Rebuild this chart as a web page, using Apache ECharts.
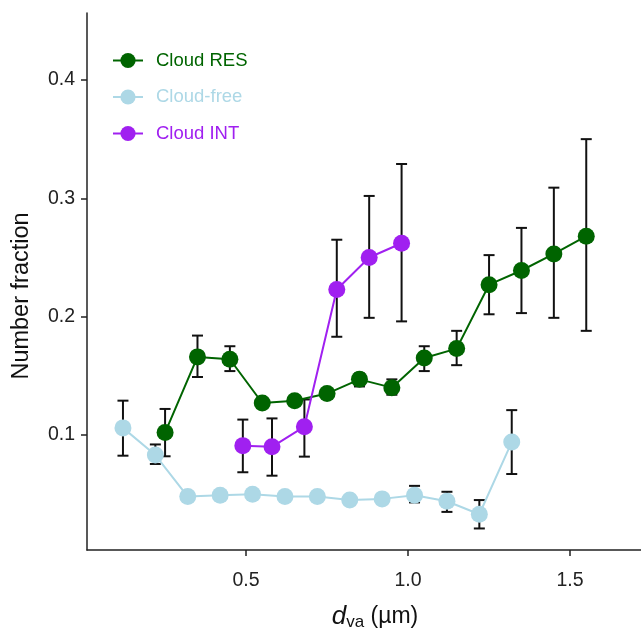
<!DOCTYPE html>
<html><head><meta charset="utf-8">
<script src="https://cdn.jsdelivr.net/npm/echarts@6/dist/echarts.min.js"></script>
<style>html,body{margin:0;padding:0;background:#fff}#c{width:641px;height:631px}</style>
</head><body><div id="c"></div>
<script>
// Cloud RES
const resX  = [0.25,0.35,0.45,0.55,0.65,0.75,0.85,0.95,1.05,1.15,1.25,1.35,1.45,1.55];
const resY  = [0.102,0.166,0.164,0.127,0.129,0.135,0.147,0.140,0.165,0.173,0.227,0.239,0.253,0.268];
const resLo = [0.082,0.149,0.154,0.123,0.125,0.131,0.141,0.134,0.154,0.159,0.202,0.203,0.199,0.188];
const resHi = [0.122,0.184,0.175,0.131,0.133,0.139,0.152,0.147,0.175,0.188,0.252,0.275,0.309,0.350];
// Cloud-free
const freeX  = [0.12,0.22,0.32,0.42,0.52,0.62,0.72,0.82,0.92,1.02,1.12,1.22,1.32];
const freeY  = [0.106,0.083,0.048,0.049,0.050,0.048,0.048,0.045,0.046,0.049,0.044,0.033,0.094];
const freeLo = [0.0825,0.0755,0.048,0.049,0.050,0.048,0.048,0.045,0.046,0.043,0.035,0.021,0.067];
const freeHi = [0.129,0.092,0.048,0.049,0.050,0.048,0.048,0.045,0.046,0.057,0.052,0.045,0.121];
// Cloud INT
const intX  = [0.49,0.58,0.68,0.78,0.88,0.98];
const intY  = [0.091,0.090,0.107,0.223,0.250,0.262];
const intLo = [0.0685,0.0656,0.0817,0.183,0.199,0.196];
const intHi = [0.113,0.114,0.130,0.265,0.302,0.329];

const xTicks = [0.5,1.0,1.5];
const yTicks = [0.1,0.2,0.3,0.4];

const names = ['Cloud RES','Cloud-free','Cloud INT'];
const colors = ['#006400','#ADD8E6','#A020F0'];

const zip2 = (a,b)=>a.map((v,i)=>[v,b[i]]);
const zip3 = (a,b,c)=>a.map((v,i)=>[v,b[i],c[i]]);

function errSeries(data){
  return {
    type:'custom', z:2, silent:true,
    data,
    encode:{x:0,y:[1,2]},
    renderItem(params, api){
      const x=api.value(0), lo=api.value(1), hi=api.value(2);
      const a=api.coord([x,lo]), b=api.coord([x,hi]);
      const w=5.5, st={stroke:'#111',lineWidth:2};
      return {type:'group',children:[
        {type:'line',shape:{x1:a[0],y1:a[1],x2:b[0],y2:b[1]},style:st},
        {type:'line',shape:{x1:a[0]-w,y1:a[1],x2:a[0]+w,y2:a[1]},style:st},
        {type:'line',shape:{x1:b[0]-w,y1:b[1],x2:b[0]+w,y2:b[1]},style:st}
      ]};
    }
  };
}
function lineSeries(i, data){
  return {
    name:names[i], type:'line', z:3+i, data,
    symbol:'circle', symbolSize:17,
    lineStyle:{color:colors[i], width:2},
    itemStyle:{color:colors[i]},
    emphasis:{disabled:true}, animation:false
  };
}

const font = '"Liberation Sans", Arial, sans-serif';
const chart = echarts.init(document.getElementById('c'));
chart.setOption({
  animation:false,
  textStyle:{fontFamily:font},
  grid:{left:87, top:13, right:0, bottom:81, outerBoundsMode:'none', containLabel:false},
  legend:{
    orient:'vertical', left:107, top:46, itemGap:17.5, itemWidth:30, itemHeight:19,
    data:names.map((n,i)=>({name:n, textStyle:{color:colors[i]}})),
    textStyle:{fontSize:18.5, fontFamily:font, padding:[0,0,0,8]}
  },
  xAxis:{
    type:'value', min:0.009, max:1.719,
    axisLine:{lineStyle:{color:'#222', width:1.5}},
    axisTick:{show:true, length:6, customValues:xTicks, lineStyle:{color:'#222', width:1.5}},
    axisLabel:{customValues:xTicks, formatter:v=>v.toFixed(1), fontSize:19.5, color:'#222', margin:21, fontFamily:font},
    splitLine:{show:false},
    name:'{i|d}{s|va}{n| (µm)}', nameLocation:'middle', nameGap:52,
    nameTextStyle:{padding:[0,0,0,22], rich:{
      i:{fontStyle:'italic', fontSize:26, color:'#111', fontFamily:font},
      s:{fontSize:17, color:'#111', verticalAlign:'bottom', padding:[12,0,0,0], fontFamily:font},
      n:{fontSize:23, color:'#111', fontFamily:font}
    }}
  },
  yAxis:{
    type:'value', min:0.0028, max:0.4566,
    axisLine:{show:true, lineStyle:{color:'#222', width:1.5}},
    axisTick:{show:true, length:6, customValues:yTicks, lineStyle:{color:'#222', width:1.5}},
    axisLabel:{customValues:yTicks, formatter:v=>v.toFixed(1), fontSize:19.5, color:'#222', margin:12, fontFamily:font},
    splitLine:{show:false},
    name:'Number fraction', nameLocation:'middle', nameGap:53,
    nameTextStyle:{fontSize:23.5, color:'#111', fontFamily:font, padding:[0,29,0,0]}
  },
  series:[
    errSeries(zip3(resX,resLo,resHi)),
    errSeries(zip3(freeX,freeLo,freeHi)),
    errSeries(zip3(intX,intLo,intHi)),
    lineSeries(0, zip2(resX,resY)),
    lineSeries(1, zip2(freeX,freeY)),
    lineSeries(2, zip2(intX,intY))
  ]
});
</script></body></html>
